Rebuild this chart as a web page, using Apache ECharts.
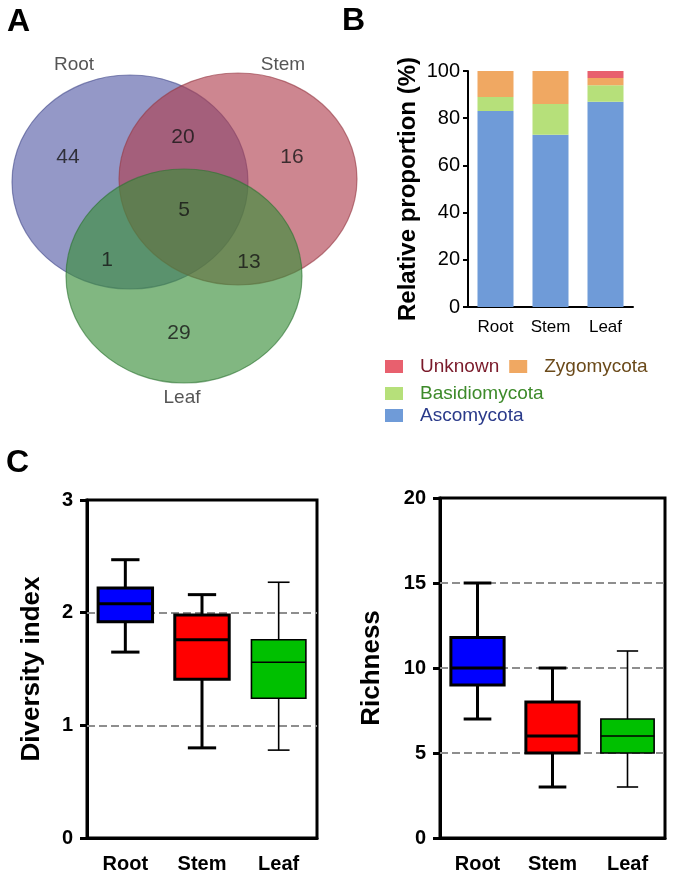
<!DOCTYPE html>
<html><head><meta charset="utf-8">
<script src="https://cdn.jsdelivr.net/npm/echarts@6/dist/echarts.min.js"></script>
<style>html,body{margin:0;padding:0;background:#fff}#c{width:675px;height:883px}</style>
</head><body><div id="c"></div>
<script>
// ---------- Panel A: Venn counts ----------
const vennSets = ['Root', 'Stem', 'Leaf'];
const vennRegions = ['Root only', 'Root & Stem', 'Stem only', 'All', 'Root & Leaf', 'Stem & Leaf', 'Leaf only'];
const vennCounts = [44, 20, 16, 5, 1, 13, 29];

// ---------- Panel B: relative proportion (%) ----------
const tissues = ['Root', 'Stem', 'Leaf'];
const ascomycota = [83, 73, 87];
const basidiomycota = [6, 13, 7];
const zygomycota = [11, 14, 3];
const unknown = [0, 0, 3];

// ---------- Panel C: box plots [min, Q1, median, Q3, max] ----------
const diversityBox = [[1.65, 1.92, 2.08, 2.22, 2.47], [0.80, 1.41, 1.76, 1.98, 2.16], [0.78, 1.24, 1.56, 1.76, 2.27]];
const richnessBox = [[7, 9, 10, 11.8, 15], [3, 5, 6, 8, 10], [3, 5, 6, 7, 11]];
const diversityRefLines = [1, 2];
const richnessRefLines = [5, 10, 15];

// ---------- layout / style (not data) ----------
const FONT = '"Liberation Sans", Arial, sans-serif';
const vennLayout = {
  ellipses: [[130, 182, 118, 107], [238, 179, 119, 106], [184, 276, 118, 107]],
  fills: ['rgba(82,88,165,0.62)', 'rgba(175,60,76,0.62)', 'rgba(58,142,58,0.64)'],
  strokes: ['rgba(70,76,140,0.6)', 'rgba(150,60,70,0.6)', 'rgba(45,115,50,0.6)'],
  setLabelPos: [[74, 65], [283, 65], [182, 398]],
  regionPos: [[68, 157], [183, 137], [292, 157], [184, 210], [107, 260], [249, 262], [179, 333]]
};
const boxColors = ['#0000ff', '#ff0000', '#00c000'];
const boxStyles = [{lw: 3, cap: 0.52}, {lw: 3, cap: 0.52}, {lw: 1.6, cap: 0.4}];

const chart = echarts.init(document.getElementById('c'));

function boxRender(params, api) {
  const i = api.value(0);
  const pLo = api.coord([i, api.value(1)]);
  const pQ1 = api.coord([i, api.value(2)]);
  const pMd = api.coord([i, api.value(3)]);
  const pQ3 = api.coord([i, api.value(4)]);
  const pHi = api.coord([i, api.value(5)]);
  const band = api.size([1, 0])[0];
  const st = boxStyles[i];
  const bw = band * 0.71, cw = bw * st.cap;
  const x = pMd[0];
  const ls = {stroke: '#000', lineWidth: st.lw};
  return {
    type: 'group',
    children: [
      {type: 'line', shape: {x1: x, y1: pHi[1], x2: x, y2: pQ3[1]}, style: ls},
      {type: 'line', shape: {x1: x, y1: pQ1[1], x2: x, y2: pLo[1]}, style: ls},
      {type: 'line', shape: {x1: x - cw / 2, y1: pHi[1], x2: x + cw / 2, y2: pHi[1]}, style: ls},
      {type: 'line', shape: {x1: x - cw / 2, y1: pLo[1], x2: x + cw / 2, y2: pLo[1]}, style: ls},
      {type: 'rect', shape: {x: x - bw / 2, y: pQ3[1], width: bw, height: pQ1[1] - pQ3[1]},
        style: {fill: boxColors[i], stroke: '#000', lineWidth: st.lw}},
      {type: 'line', shape: {x1: x - bw / 2, y1: pMd[1], x2: x + bw / 2, y2: pMd[1]}, style: ls}
    ]
  };
}

function boxXAxis(gi) {
  return {
    type: 'category', gridIndex: gi, data: tissues, boundaryGap: true,
    axisLine: {lineStyle: {color: '#000', width: 3}},
    axisTick: {alignWithLabel: true, length: 8, lineStyle: {color: '#000', width: 3}},
    axisLabel: {color: '#000', fontFamily: FONT, fontSize: 20, fontWeight: 'bold', margin: 16}
  };
}
function boxYAxis(gi, max, interval, name, gap) {
  return {
    type: 'value', gridIndex: gi, min: 0, max: max, interval: interval,
    name: name, nameLocation: 'middle', nameGap: gap,
    nameTextStyle: {color: '#000', fontFamily: FONT, fontSize: 26, fontWeight: 'bold'},
    axisLine: {show: true, lineStyle: {color: '#000', width: 3}},
    axisTick: {show: true, length: 7, lineStyle: {color: '#000', width: 3}},
    axisLabel: {color: '#000', fontFamily: FONT, fontSize: 20, fontWeight: 'bold', margin: 14},
    splitLine: {show: false}
  };
}
function refLineSeries(xi, yi, vals) {
  return {
    type: 'line', xAxisIndex: xi, yAxisIndex: yi, data: [], silent: true,
    markLine: {
      silent: true, symbol: 'none', label: {show: false},
      lineStyle: {color: '#8e8e8e', type: [8, 4], width: 2},
      data: vals.map(v => ({yAxis: v}))
    }
  };
}

const barLabel = {color: '#000', fontFamily: FONT};

const option = {
  animation: false,
  backgroundColor: '#fff',
  graphic: [
    {type: 'text', left: 7, top: 6, style: {text: 'A', font: 'bold 32px ' + FONT, fill: '#000'}},
    {type: 'text', left: 342, top: 5, style: {text: 'B', font: 'bold 32px ' + FONT, fill: '#000'}},
    {type: 'text', left: 6, top: 447, style: {text: 'C', font: 'bold 32px ' + FONT, fill: '#000'}}
  ],
  grid: [
    {left: 0, top: 0, width: 380, height: 420},
    {left: 468, top: 71, width: 165, height: 236},
    {left: 87, top: 500, width: 230, height: 338, show: true, borderColor: '#000', borderWidth: 3, backgroundColor: 'transparent'},
    {left: 440, top: 498, width: 225, height: 340, show: true, borderColor: '#000', borderWidth: 3, backgroundColor: 'transparent'}
  ],
  xAxis: [
    {type: 'value', gridIndex: 0, min: 0, max: 380, show: false},
    {type: 'category', gridIndex: 1, data: tissues,
      axisLine: {lineStyle: {color: '#000', width: 2}},
      axisTick: {alignWithLabel: true, length: 5, lineStyle: {color: '#000', width: 2}},
      axisLabel: Object.assign({fontSize: 17, margin: 12}, barLabel)},
    boxXAxis(2),
    boxXAxis(3)
  ],
  yAxis: [
    {type: 'value', gridIndex: 0, min: 0, max: 420, inverse: true, show: false},
    {type: 'value', gridIndex: 1, min: 0, max: 100, interval: 20,
      name: 'Relative proportion (%)', nameLocation: 'middle', nameGap: 48,
      nameTextStyle: {color: '#000', fontFamily: FONT, fontSize: 24, fontWeight: 'bold'},
      axisLine: {show: true, lineStyle: {color: '#000', width: 2}},
      axisTick: {show: true, length: 5, lineStyle: {color: '#000', width: 2}},
      axisLabel: Object.assign({fontSize: 20, margin: 8}, barLabel),
      splitLine: {show: false}},
    boxYAxis(2, 3, 1, 'Diversity index', 42),
    boxYAxis(3, 20, 5, 'Richness', 55)
  ],
  legend: [
    {left: 380, top: 352, orient: 'horizontal', icon: 'rect', itemWidth: 18, itemHeight: 13, itemGap: 10,
      textStyle: {fontFamily: FONT, fontSize: 19, padding: [0, 0, 0, 12]},
      data: [{name: 'Unknown', textStyle: {color: '#7a1a2a'}}, {name: 'Zygomycota', textStyle: {color: '#6b4a1a'}}]},
    {left: 380, top: 379, icon: 'rect', itemWidth: 18, itemHeight: 13,
      textStyle: {fontFamily: FONT, fontSize: 19, padding: [0, 0, 0, 12]},
      data: [{name: 'Basidiomycota', textStyle: {color: '#3d8a2a'}}]},
    {left: 380, top: 401, icon: 'rect', itemWidth: 18, itemHeight: 13,
      textStyle: {fontFamily: FONT, fontSize: 19, padding: [0, 0, 0, 12]},
      data: [{name: 'Ascomycota', textStyle: {color: '#2a3a8a'}}]}
  ],
  series: [
    // Venn circles
    {
      type: 'custom', xAxisIndex: 0, yAxisIndex: 0, silent: true,
      data: vennSets.map((s, i) => [i]),
      renderItem: function (params, api) {
        const i = api.value(0);
        const e = vennLayout.ellipses[i];
        const c = api.coord([e[0], e[1]]);
        const r = api.size([e[2], e[3]]);
        return {type: 'ellipse', shape: {cx: c[0], cy: c[1], rx: r[0], ry: r[1]},
          style: {fill: vennLayout.fills[i], stroke: vennLayout.strokes[i], lineWidth: 1.2}};
      }
    },
    // Venn set names
    {
      type: 'scatter', xAxisIndex: 0, yAxisIndex: 0, symbolSize: 0, silent: true,
      data: vennSets.map((s, i) => ({value: vennLayout.setLabelPos[i], name: s})),
      label: {show: true, position: 'inside', formatter: p => p.name, color: '#2a2a2a', fontFamily: FONT, fontSize: 19}
    },
    // Venn region counts
    {
      type: 'scatter', xAxisIndex: 0, yAxisIndex: 0, symbolSize: 0, silent: true, z: 5,
      data: vennCounts.map((v, i) => ({value: vennLayout.regionPos[i], name: vennRegions[i]})),
      label: {show: true, position: 'inside', formatter: p => String(vennCounts[p.dataIndex]), color: '#151515', fontFamily: FONT, fontSize: 21}
    },
    // Stacked bars
    {name: 'Ascomycota', type: 'bar', stack: 'p', xAxisIndex: 1, yAxisIndex: 1, barWidth: 36, data: ascomycota, itemStyle: {color: '#6f9bd8'}},
    {name: 'Basidiomycota', type: 'bar', stack: 'p', xAxisIndex: 1, yAxisIndex: 1, barWidth: 36, data: basidiomycota, itemStyle: {color: '#b6e07a'}},
    {name: 'Zygomycota', type: 'bar', stack: 'p', xAxisIndex: 1, yAxisIndex: 1, barWidth: 36, data: zygomycota, itemStyle: {color: '#f0a862'}},
    {name: 'Unknown', type: 'bar', stack: 'p', xAxisIndex: 1, yAxisIndex: 1, barWidth: 36, data: unknown, itemStyle: {color: '#e8606e'}},
    // Reference dashed lines
    refLineSeries(2, 2, diversityRefLines),
    refLineSeries(3, 3, richnessRefLines),
    // Box plots
    {type: 'custom', xAxisIndex: 2, yAxisIndex: 2, z: 5, data: diversityBox.map((d, i) => [i].concat(d)), renderItem: boxRender},
    {type: 'custom', xAxisIndex: 3, yAxisIndex: 3, z: 5, data: richnessBox.map((d, i) => [i].concat(d)), renderItem: boxRender}
  ]
};
chart.setOption(option);
</script>
</body></html>
